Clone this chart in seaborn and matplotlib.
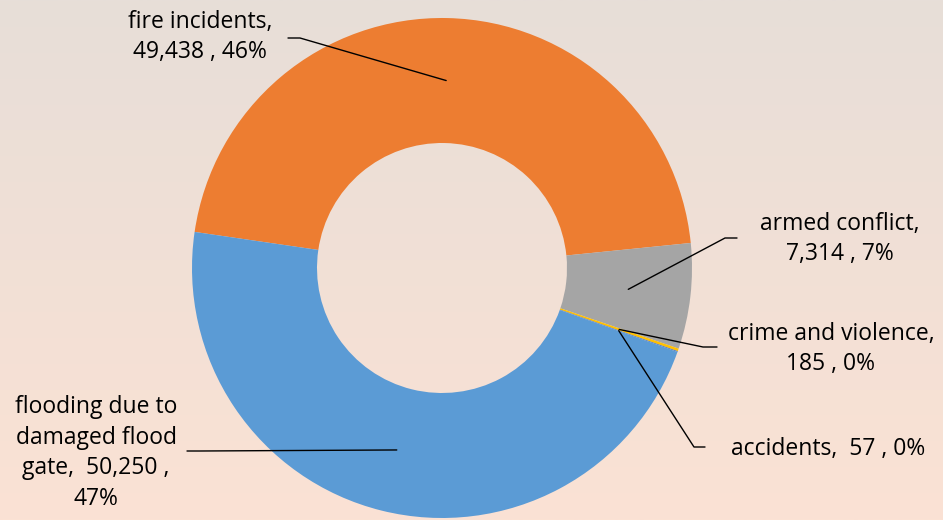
import numpy as np
import matplotlib
matplotlib.use("Agg")
import matplotlib.pyplot as plt
import seaborn as sns

# data (clockwise from the left edge of the orange slice)
categories = ["fire incidents", "armed conflict", "crime and violence",
              "accidents", "flooding due to damaged flood gate"]
values = [49438, 7314, 185, 57, 50250]
colors = ["#ED7D31", "#A5A5A5", "#FFC000", "#4472C4", "#5B9BD5"]

# label text layout: how each label breaks into lines
label_fmt = ["fire incidents,\n{v} , {p}",
             "armed conflict,\n{v} , {p}",
             "crime and violence,\n{v} , {p}",
             "accidents,  {v} , {p}",
             "flooding due to\ndamaged flood\ngate,  {v} ,\n{p}"]

sns.set_theme(style="white")
plt.rcParams['font.family'] = ['Open Sans', 'DejaVu Sans']

W, H = 943, 520
fig = plt.figure(figsize=(W / 100, H / 100), dpi=100)
ax = fig.add_axes([0, 0, 1, 1])
ax.set_xlim(0, W)
ax.set_ylim(0, H)
ax.set_aspect('equal')
ax.axis('off')

# background gradient (greyish top -> peach bottom)
top = np.array([231, 222, 216]) / 255
bot = np.array([251, 226, 212]) / 255
t = np.linspace(0, 1, 256)[:, None]
grad = (top * (1 - t) + bot * t)[:, None, :]
ax.imshow(grad, extent=[0, W, 0, H], aspect='auto', zorder=0)

cx, cy = 442, H - 268
r_out, r_in = 250, 125
wedges, _ = ax.pie(values, colors=colors, startangle=171.7, counterclock=False,
                   radius=r_out, center=(cx, cy),
                   wedgeprops=dict(width=r_out - r_in, linewidth=0))
for w in wedges:
    w.set_zorder(2)
ax.set_xlim(0, W)
ax.set_ylim(0, H)

total = sum(values)
# label centre and leader elbow (pixel coords, y from top)
text_pos = [(200, 37), (840, 239), (831, 349), (828, 449), (96, 453)]
elbows = [[(288, 38), (300, 38)],
          [(737, 238), (725, 238)],
          [(717, 347), (703, 347)],
          [(705, 447), (694, 447)],
          [(187, 451), (200, 451)]]
r_mid = (r_out + r_in) / 2
for w, v, fmt, tp, el in zip(wedges, values, label_fmt, text_pos, elbows):
    pct = f"{100 * v / total:.0f}%"
    txt = fmt.format(v=f"{v:,}", p=pct)
    ax.text(tp[0], H - tp[1], txt, ha='center', va='center', fontsize=16.5,
            color='black', linespacing=1.38, zorder=4)
    ang = np.deg2rad((w.theta1 + w.theta2) / 2)
    ex, ey = cx + r_mid * np.cos(ang), cy + r_mid * np.sin(ang)
    xs = [el[0][0], el[1][0], ex]
    ys = [H - el[0][1], H - el[1][1], ey]
    ax.plot(xs, ys, color='black', linewidth=1, zorder=3)

fig.savefig("out.png", dpi=100)
